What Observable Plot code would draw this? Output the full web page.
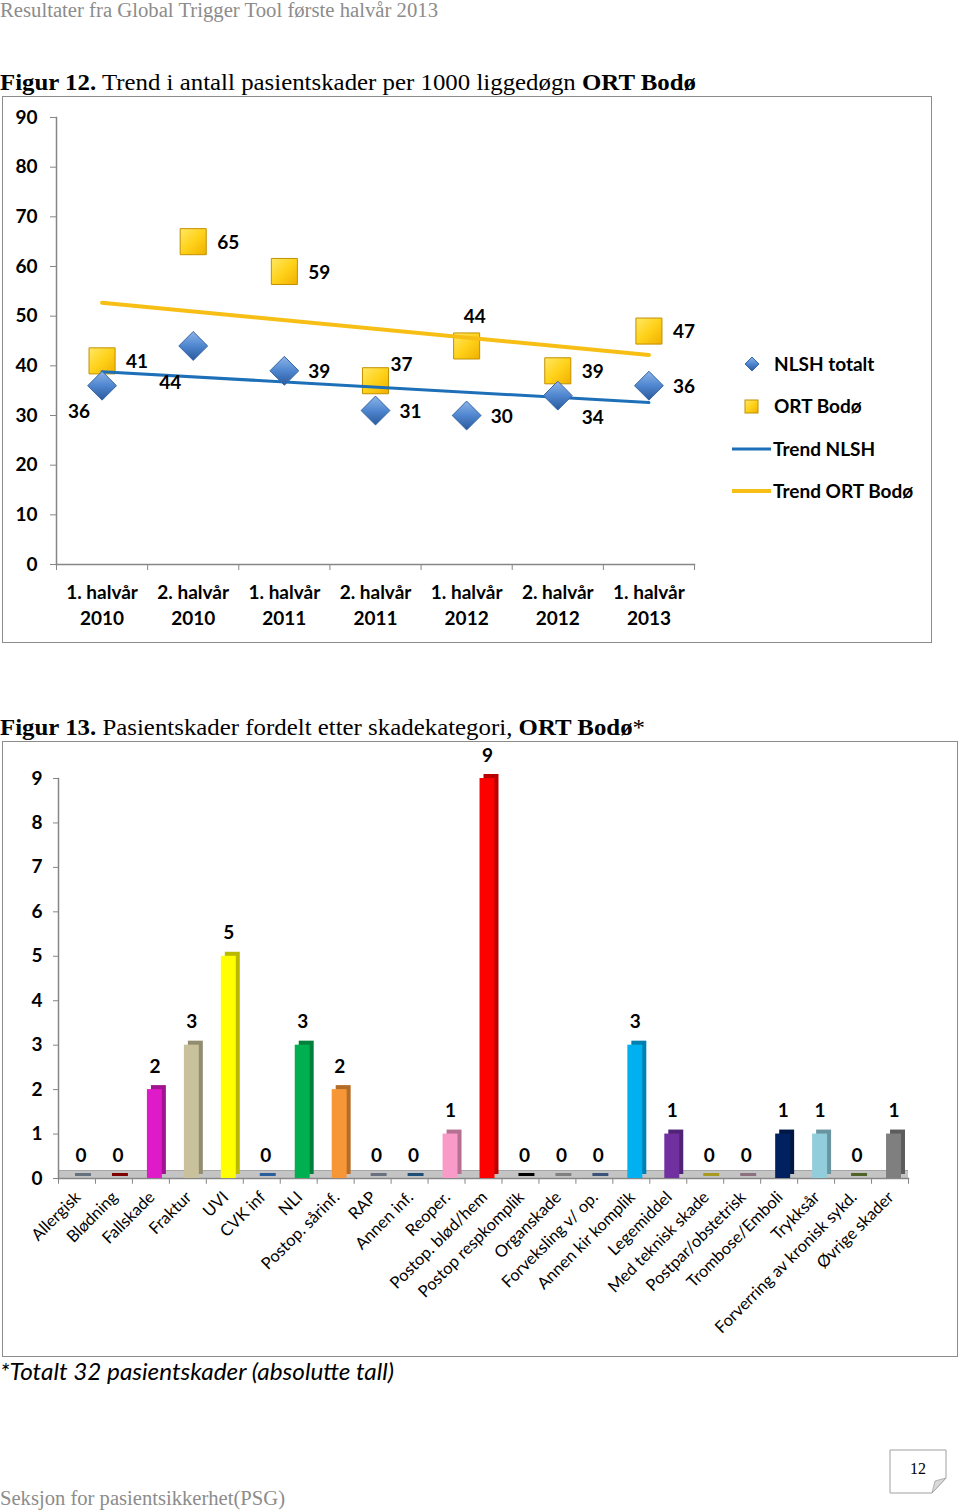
<!DOCTYPE html>
<html><head><meta charset="utf-8">
<script src="https://cdn.jsdelivr.net/npm/d3@7"></script>
<script src="https://cdn.jsdelivr.net/npm/@observablehq/plot@0.6"></script>
<style>
body{margin:0;background:#fff;width:960px;height:1510px;position:relative;overflow:hidden;font-family:Lato,sans-serif}
.abs{position:absolute;white-space:nowrap;line-height:1}
.fit{transform-origin:0 50%}
.frame{position:absolute;border:1.5px solid #8c8c8c;box-sizing:border-box;pointer-events:none}
svg{position:absolute}
</style></head><body>
<div class="abs fit" data-w="438" style="left:0;top:0;font-size:20px;font-family:'Liberation Serif';color:#8c8c8c">Resultater fra Global Trigger Tool første halvår 2013</div>
<div class="abs fit" data-w="696" style="left:0;top:70px;font-size:24px;font-family:'Liberation Serif';color:#000"><b>Figur 12.</b> Trend i antall pasientskader per 1000 liggedøgn <b>ORT Bodø</b></div>
<div class="abs fit" data-w="645" style="left:0;top:715px;font-size:24px;font-family:'Liberation Serif';color:#000"><b>Figur 13.</b> Pasientskader fordelt etter skadekategori, <b>ORT Bodø</b>*</div>
<div class="abs fit" data-w="394" style="left:0;top:1360px;font-size:23px;font-family:Lato;font-style:italic;color:#000">*Totalt 32 pasientskader (absolutte tall)</div>
<div class="abs fit" data-w="285" style="left:0;top:1488px;font-size:20px;font-family:'Liberation Serif';color:#8c8c8c">Seksjon for pasientsikkerhet(PSG)</div>
<svg style="left:889px;top:1449px" width="60" height="46">
  <path d="M1,1H57V29L43,44H1Z" fill="#fff" stroke="#a0a0a0" stroke-width="1"/>
  <path d="M43,44L46,32L57,29Z" fill="#d9d9d9" stroke="#a0a0a0" stroke-width="0.8"/>
  <text x="29" y="25" text-anchor="middle" font-family="Liberation Serif" font-size="16" fill="#000">12</text>
</svg>
<div class="frame" style="left:2px;top:96px;width:930px;height:547px"></div>
<div class="frame" style="left:2px;top:741px;width:956px;height:616px"></div>
<div id="fig12"></div>
<div id="fig13"></div>
<script>
// ---------- Figure 12 data ----------
const periods = ["1. halvår\n2010","2. halvår\n2010","1. halvår\n2011","2. halvår\n2011","1. halvår\n2012","2. halvår\n2012","1. halvår\n2013"];
const nlshTotalt = [36, 44, 39, 31, 30, 34, 36];
const ortBodo = [41, 65, 59, 37, 44, 39, 47];
const yTicks12 = [0,10,20,30,40,50,60,70,80,90];
const nlshLabelPos = ["lowerLeft","farLowerLeft","right","right","right","lowerRight","right"];
const ortLabelPos = ["right","right","right","upperRight","above","right","right"];
const legendLabels = ["NLSH totalt","ORT Bodø","Trend NLSH","Trend ORT Bodø"];

// ---------- Figure 13 data ----------
const categories = ["Allergisk","Blødning","Fallskade","Fraktur","UVI","CVK inf","NLI","Postop. sårinf.","RAP","Annen inf.","Reoper.","Postop. blød/hem","Postop respkomplik","Organskade","Forveksling v/ op.","Annen kir komplik","Legemiddel","Med teknisk skade","Postpar/obstetrisk","Trombose/Emboli","Trykksår","Forverring av kronisk sykd.","Øvrige skader"];
const counts = [0,0,2,3,5,0,3,2,0,0,1,9,0,0,0,3,1,0,0,1,1,0,1];
const yTicks13 = [0,1,2,3,4,5,6,7,8,9];
const barColors = ["#66707f","#7f0000","#df1ac8","#c9c19b","#ffff00","#2a5f9e","#00b050","#f79637","#6a7080","#1f4e79","#f99bc9","#ff0000","#000000","#808080","#3a5378","#00b0f0","#7030a0","#a89a20","#8c7080","#002060","#92cddc","#4f6228","#7f7f7f"];

const AXIS = "#868686";
const FONT = "Lato";

// ---------- Figure 12 ----------
const rows12 = periods.map((p, i) => ({i: i + 1, period: p, nlsh: nlshTotalt[i], ort: ortBodo[i], nPos: nlshLabelPos[i], oPos: ortLabelPos[i]}));
const offsets = {right: [35, 1], lowerLeft: [-23, 26], farLowerLeft: [-23, 37], upperRight: [26, -16], above: [8, -29], lowerRight: [35, 22]};
const labelMarks = [];
for (const [k, [dx, dy]] of Object.entries(offsets)) {
  const common = {dx, dy, fontSize: 19, fontWeight: "bold", fill: "#000"};
  labelMarks.push(Plot.text(rows12.filter(r => r.nPos === k), {x: "i", y: "nlsh", text: "nlsh", ...common}));
  labelMarks.push(Plot.text(rows12.filter(r => r.oPos === k), {x: "i", y: "ort", text: "ort", ...common}));
}
const fig12 = Plot.plot({
  width: 930, height: 547,
  marginTop: 21, marginBottom: 79, marginLeft: 54, marginRight: 238,
  x: {type: "linear", domain: [0.5, periods.length + 0.5], axis: null, label: null},
  y: {domain: [0, 90], axis: null, label: null},
  style: {fontFamily: FONT, fontSize: "19px", color: "#000", background: "transparent", overflow: "visible"},
  marks: [
    Plot.frame({anchor: "left", stroke: AXIS, strokeWidth: 1.5}),
    Plot.frame({anchor: "bottom", stroke: AXIS, strokeWidth: 1.5}),
    Plot.axisY({ticks: yTicks12, label: null, tickSize: 6, tickPadding: 13, stroke: AXIS, fill: "#000", fontWeight: "bold", fontSize: 19}),
    Plot.axisX({ticks: d3.range(0.5, periods.length + 1, 1), label: null, tickFormat: () => "", tickSize: 6, stroke: AXIS}),
    Plot.axisX({ticks: d3.range(1, periods.length + 1), label: null, tickFormat: i => periods[i - 1], tickSize: 0, tickPadding: 16, lineHeight: 1.37, fontWeight: "bold", fontSize: 19, fill: "#000"}),
    Plot.dot(rows12, {x: "i", y: "ort", symbol: "square", r: 14.7, fill: "url(#gSquare)", stroke: "#c29000", strokeWidth: 1}),
    Plot.linearRegressionY(rows12, {x: "i", y: "nlsh", stroke: "#1d70b8", strokeWidth: 3, ci: 0}),
    Plot.linearRegressionY(rows12, {x: "i", y: "ort", stroke: "#f7bf16", strokeWidth: 4, ci: 0}),
    Plot.dot(rows12, {x: "i", y: "nlsh", symbol: "diamond2", r: 13, fill: "url(#gDiamond)", stroke: "#3567a8", strokeWidth: 1}),
    ...labelMarks
  ]
});
fig12.style.left = "2px"; fig12.style.top = "96px";
const defs = d3.select(fig12).insert("defs", ":first-child");
const g1 = defs.append("linearGradient").attr("id", "gDiamond").attr("x1", 0).attr("y1", 0).attr("x2", 0).attr("y2", 1);
g1.append("stop").attr("offset", "0%").attr("stop-color", "#8db4e8");
g1.append("stop").attr("offset", "50%").attr("stop-color", "#4f86cf");
g1.append("stop").attr("offset", "100%").attr("stop-color", "#2b5a9c");
const g2 = defs.append("linearGradient").attr("id", "gSquare").attr("x1", 0).attr("y1", 0).attr("x2", 1).attr("y2", 1);
g2.append("stop").attr("offset", "0%").attr("stop-color", "#ffe866");
g2.append("stop").attr("offset", "50%").attr("stop-color", "#ffd21a");
g2.append("stop").attr("offset", "100%").attr("stop-color", "#f0b000");
document.getElementById("fig12").appendChild(fig12);

// legend (figure 12)
const leg = d3.select("body").append("svg").style("left", "725px").style("top", "340px").attr("width", 205).attr("height", 170);
leg.append("path").attr("d", "M27,17l7,7l-7,7l-7,-7z").attr("fill", "url(#gDiamond)").attr("stroke", "#3567a8");
leg.append("rect").attr("x", 20).attr("y", 60).attr("width", 13).attr("height", 13).attr("fill", "url(#gSquare)").attr("stroke", "#c29000");
leg.append("line").attr("x1", 7).attr("x2", 46).attr("y1", 109).attr("y2", 109).attr("stroke", "#1d70b8").attr("stroke-width", 3);
leg.append("line").attr("x1", 7).attr("x2", 46).attr("y1", 151).attr("y2", 151).attr("stroke", "#f7bf16").attr("stroke-width", 4);
leg.selectAll("text.l").data(legendLabels).join("text")
  .attr("x", (d, i) => i < 2 ? 49 : 48).attr("y", (d, i) => [24, 66, 109, 151][i]).attr("dy", "0.35em")
  .attr("font-family", FONT).attr("font-weight", "bold").attr("font-size", 19).text(d => d);

// ---------- Figure 13 ----------
const rows13 = categories.map((c, i) => ({cat: c, v: counts[i], color: barColors[i], side: d3.color(barColors[i]).darker(0.9).formatHex()}));
const W13 = 956, ML13 = 56, MR13 = 50;
const bw = (W13 - ML13 - MR13) / categories.length;
const fig13 = Plot.plot({
  width: W13, height: 616,
  marginTop: 37, marginBottom: 179, marginLeft: ML13, marginRight: MR13,
  x: {domain: categories, padding: 0, round: false, axis: null, label: null},
  y: {domain: [0, 9], axis: null, label: null},
  style: {fontFamily: FONT, fontSize: "16px", color: "#000", background: "transparent", overflow: "visible"},
  marks: [
    Plot.ruleY([0], {stroke: "#c4c4c4", strokeWidth: 7, dy: -4}),
    Plot.ruleY([0], {stroke: "#a6a6a6", strokeWidth: 1, dy: -8}),
    Plot.frame({anchor: "left", stroke: AXIS, strokeWidth: 1.5}),
    Plot.frame({anchor: "bottom", stroke: AXIS, strokeWidth: 1.5}),
    Plot.axisY({ticks: yTicks13, label: null, tickSize: 5, tickPadding: 11, stroke: AXIS, fill: "#000", fontWeight: "bold", fontSize: 19}),
    Plot.ruleX(rows13, {x: "cat", y1: 0, y2: -0.13, dx: -bw / 2, stroke: AXIS}),
    Plot.ruleX(rows13.slice(-1), {x: "cat", y1: 0, y2: -0.13, dx: bw / 2, stroke: AXIS}),
    Plot.tickY(rows13.filter(d => d.v === 0), {x: "cat", y: 0, stroke: "color", strokeWidth: 3, dy: -4, insetLeft: 17, insetRight: 4}),
    Plot.barY(rows13, {x: "cat", y: "v", fill: "side", insetLeft: 19, insetRight: 3, dy: -4}),
    Plot.barY(rows13, {x: "cat", y: "v", fill: "color", insetLeft: 15, insetRight: 7}),
    Plot.text(rows13, {x: "cat", y: "v", text: "v", dx: 4, dy: -23, fontSize: 19, fontWeight: "bold", fill: "#000"}),
    Plot.axisX({label: null, tickRotate: -45, tickSize: 0, tickPadding: 16, dx: 1, fontSize: 16.5, fill: "#000"})
  ]
});
fig13.style.left = "2px"; fig13.style.top = "741px";
document.getElementById("fig13").appendChild(fig13);

// fit text widths
document.querySelectorAll(".fit").forEach(el => {
  const w = el.getBoundingClientRect().width;
  el.style.transform = `scaleX(${(+el.dataset.w) / w})`;
});
</script>
</body></html>
